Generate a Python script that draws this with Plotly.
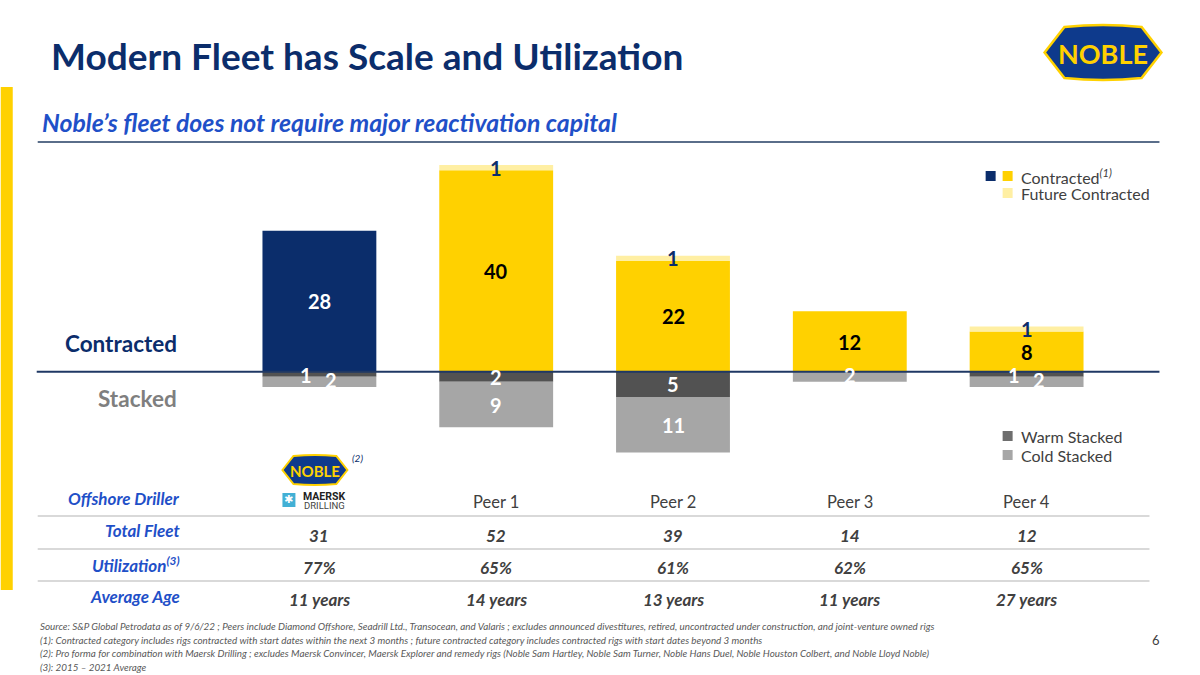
import plotly.graph_objects as go

# ---------------- data ----------------
categories = ["Noble", "Peer 1", "Peer 2", "Peer 3", "Peer 4"]
contracted = [28, 40, 22, 12, 8]
future_contracted = [0, 1, 1, 0, 1]
warm_stacked = [1, 2, 5, 0, 1]
cold_stacked = [2, 9, 11, 2, 2]
total_fleet = ["31", "52", "39", "14", "12"]
utilization = ["77%", "65%", "61%", "62%", "65%"]
average_age = ["11 years", "14 years", "13 years", "11 years", "27 years"]
header_labels = ["", "Peer 1", "Peer 2", "Peer 3", "Peer 4"]

# ---------------- style ----------------
NAVY = "#0B2D6B"
LOGO_BLUE = "#0E3A8C"
YELLOW = "#FFD100"
LIGHT_YELLOW = "#FFEFA3"
WARM = "#525252"
COLD = "#A6A6A6"
BLUE = "#1F50C8"
TXT = "#404040"
FONT = "Lato"

L, R, T, B = 230.5, 1115.5, 150, 460
W, H = R - L, B - T


def px(x):
    return (x - L) / W


def py(y):
    return (B - y) / H


fig = go.Figure()
fig.add_trace(go.Bar(x=categories, y=contracted, name="Contracted",
                     marker=dict(color=[NAVY] + [YELLOW] * 4, line=dict(width=0))))
fig.add_trace(go.Bar(x=categories, y=future_contracted, name="Future Contracted",
                     marker=dict(color=LIGHT_YELLOW, line=dict(width=0))))
fig.add_trace(go.Bar(x=categories, y=[-v for v in warm_stacked], name="Warm Stacked",
                     marker=dict(color=WARM, line=dict(width=0))))
fig.add_trace(go.Bar(x=categories, y=[-v for v in cold_stacked], name="Cold Stacked",
                     marker=dict(color=COLD, line=dict(width=0))))

ann = []
shapes = []


def txt(x, y, text, size, color, xanchor="center", family=FONT, xref="paper"):
    ann.append(dict(x=x, y=y, xref=xref, yref="paper", text=text, showarrow=False,
                    xanchor=xanchor, yanchor="middle",
                    font=dict(family=family, size=size, color=color)))


# bar labels
for i, c in enumerate(categories):
    v = contracted[i]
    ann.append(dict(x=c, y=v / 2, xref="x", yref="y", text=f"<b>{v}</b>", showarrow=False,
                    xanchor="center", yanchor="middle",
                    font=dict(family=FONT, size=20, color="white" if i == 0 else "black")))
    f = future_contracted[i]
    if f:
        ann.append(dict(x=c, y=v + f / 2, xref="x", yref="y", text=f"<b>{f}</b>", showarrow=False,
                        xanchor="center", yanchor="middle",
                        font=dict(family=FONT, size=20, color=NAVY)))
    w = warm_stacked[i]
    cs = cold_stacked[i]
    small = (w == 1 and cs > 0)
    if w:
        ann.append(dict(x=c, y=-w / 2, xref="x", yref="y", text=f"<b>{w}</b>", showarrow=False,
                        xanchor="center", yanchor="middle",
                        xshift=-13 if small else 0, yshift=-1 if small else 0,
                        font=dict(family=FONT, size=20, color="white")))
    if cs:
        ann.append(dict(x=c, y=-w - cs / 2, xref="x", yref="y", text=f"<b>{cs}</b>", showarrow=False,
                        xanchor="center", yanchor="middle",
                        xshift=12 if small else 0, yshift=2 if cs <= 2 else 0,
                        font=dict(family=FONT, size=20, color="white")))

# baseline
shapes.append(dict(type="line", xref="paper", yref="y", x0=px(36), x1=px(1160), y0=0, y1=0,
                   line=dict(color="#1F3864", width=2)))

# left yellow accent bar
shapes.append(dict(type="rect", xref="paper", yref="paper", x0=px(0), x1=px(12), y0=py(87), y1=py(590),
                   fillcolor=YELLOW, line=dict(width=0)))
# subtitle rule
shapes.append(dict(type="line", xref="paper", yref="paper", x0=px(37), x1=px(1160), y0=py(142), y1=py(142),
                   line=dict(color="#5A6E8A", width=2)))

# title & subtitle
txt(px(48), py(55), "<b>Modern Fleet has Scale and Utilization</b>", 37, NAVY, "left")
txt(px(39), py(122), "<b><i>Noble’s fleet does not require major reactivation capital</i></b>", 24.8, BLUE, "left")


# logo helper
def logo(x0, x1, y0, y1, fs, border):
    cx, cy = (x0 + x1) / 2, (y0 + y1) / 2
    inset = (x1 - x0) * 0.17
    bulge = (y1 - y0) * 0.08
    path = (f"M {px(x0)},{py(cy)} "
            f"L {px(x0 + inset)},{py(y0)} "
            f"Q {px(cx)},{py(y0 - bulge)} {px(x1 - inset)},{py(y0)} "
            f"L {px(x1)},{py(cy)} "
            f"L {px(x1 - inset)},{py(y1)} "
            f"Q {px(cx)},{py(y1 + bulge)} {px(x0 + inset)},{py(y1)} Z")
    shapes.append(dict(type="path", xref="paper", yref="paper", path=path,
                       fillcolor=LOGO_BLUE, line=dict(color=YELLOW, width=border)))
    txt(px(cx), py(cy + 1), "<b>NOBLE</b>", fs, YELLOW)


logo(1045, 1162, 27, 78, 27, 2.5)
logo(282, 347, 456, 484, 15, 2)
txt(px(350), py(458), "<i>(2)</i>", 10, NAVY, "left")

# Maersk drilling logo
shapes.append(dict(type="rect", xref="paper", yref="paper", x0=px(282), x1=px(295), y0=py(507), y1=py(493),
                   fillcolor="#42B0D5", line=dict(width=0)))
txt(px(288.5), py(500), "✱", 11, "white", family="DejaVu Sans")
txt(px(301), py(496), "<b>MAERSK</b>", 10.5, "#222222", "left", family="Roboto")
txt(px(302), py(505.5), "DRILLING", 9.5, "#444444", "left", family="Roboto")

# chart side labels
txt(px(178), py(343), "<b>Contracted</b>", 22.5, NAVY, "right")
txt(px(178), py(398), "<b>Stacked</b>", 22.5, "#7F7F7F", "right")


# manual legends
def sq(x, y, color):
    shapes.append(dict(type="rect", xref="paper", yref="paper", x0=px(x), x1=px(x + 10),
                       y0=py(y + 5), y1=py(y - 5), fillcolor=color, line=dict(width=0)))


sq(986, 176, NAVY)
sq(1003, 176, YELLOW)
sq(1003, 193, LIGHT_YELLOW)
sq(1003, 436, "#6E6E6E")
sq(1003, 455, COLD)
for y, t in [(176, "Contracted<sup><i>(1)</i></sup>"), (193, "Future Contracted"),
             (436, "Warm Stacked"), (455, "Cold Stacked")]:
    txt(px(1019), py(y), t, 16, TXT, "left")

# table
row_labels = [("<b><i>Offshore Driller</i></b>", 498), ("<b><i>Total Fleet</i></b>", 530),
              ("<b><i>Utilization<sup>(3)</sup></i></b>", 564), ("<b><i>Average Age</i></b>", 596)]
for t, y in row_labels:
    txt(px(181), py(y), t, 17, BLUE, "right")
for i, c in enumerate(categories):
    if header_labels[i]:
        txt(c, py(502), header_labels[i], 16.5, TXT, xref="x")
    for vals, y in [(total_fleet, 535), (utilization, 567), (average_age, 599)]:
        txt(c, py(y), f"<b><i>{vals[i]}</i></b>", 17, TXT, xref="x")
for y in [516, 549, 581]:
    shapes.append(dict(type="line", xref="paper", yref="paper", x0=px(37), x1=px(1150), y0=py(y), y1=py(y),
                       line=dict(color="#D9D9D9", width=2)))

# footnotes
notes = [
    "Source: S&P Global Petrodata as of 9/6/22 ; Peers include Diamond Offshore, Seadrill Ltd., Transocean, and Valaris ; excludes announced divestitures, retired, uncontracted under construction, and joint-venture owned rigs",
    "(1): Contracted category includes rigs contracted with start dates within the next 3 months ; future contracted category includes contracted rigs with start dates beyond 3 months",
    "(2): Pro forma for combination with Maersk Drilling ; excludes Maersk Convincer, Maersk Explorer and remedy rigs (Noble Sam Hartley, Noble Sam Turner, Noble Hans Duel, Noble Houston Colbert, and Noble Lloyd Noble)",
    "(3): 2015 – 2021 Average",
]
for k, t in enumerate(notes):
    txt(px(37), py(626 + 13.5 * k), f"<i>{t}</i>", 9.85, "#595959", "left")
txt(px(1157), py(640), "6", 13, TXT)

fig.update_layout(
    width=1200, height=675,
    margin=dict(l=L, r=1200 - R, t=T, b=675 - B, pad=0),
    barmode="relative", bargap=0.356,
    showlegend=False,
    paper_bgcolor="white", plot_bgcolor="rgba(0,0,0,0)",
    xaxis=dict(visible=False, range=[-0.5, 4.5]),
    yaxis=dict(visible=False, range=[-17.5, 44]),
    annotations=ann, shapes=shapes,
    hovermode=False,
)
fig.write_html("out.html", config={"displayModeBar": False},
               post_script="document.body.style.margin='0px';")
